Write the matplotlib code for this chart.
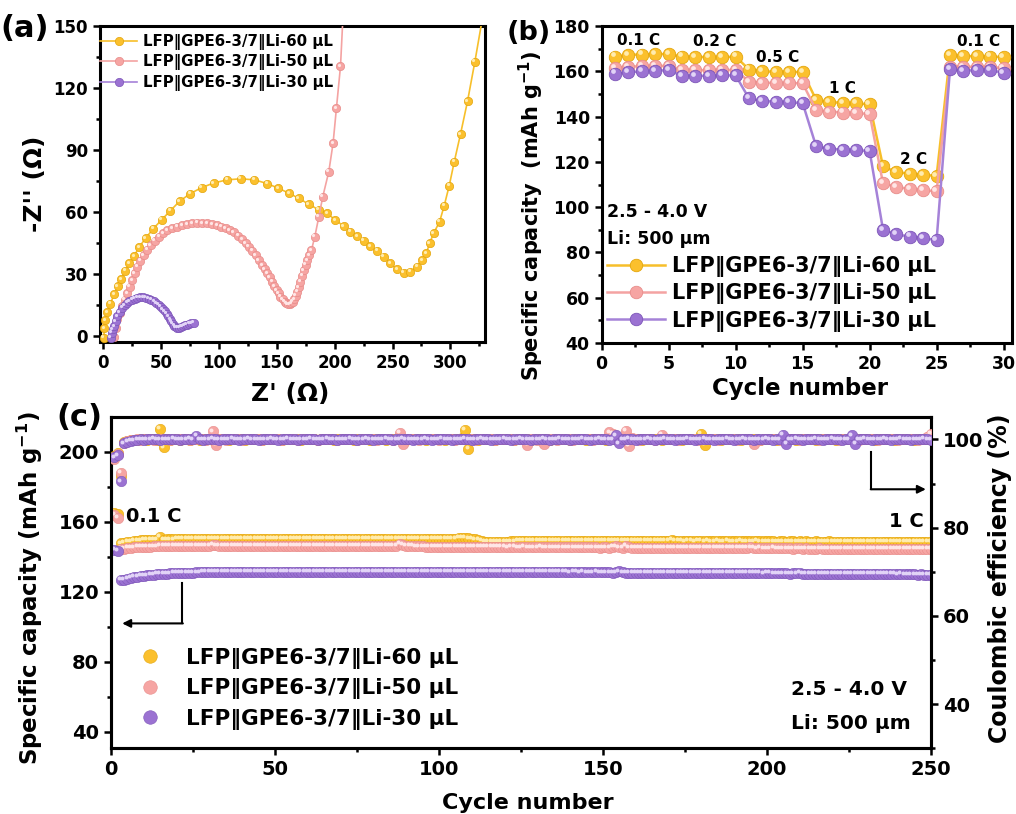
import numpy as np
import matplotlib
matplotlib.use('Agg')
import matplotlib.pyplot as plt
from matplotlib.ticker import MultipleLocator
from matplotlib.transforms import offset_copy

plt.rcParams['font.family'] = ['DejaVu Sans']
plt.rcParams['font.weight'] = 'bold'
plt.rcParams['axes.labelweight'] = 'bold'
plt.rcParams['mathtext.default'] = 'bf'

labels = ['LFP‖GPE6-3/7‖Li-60 μL', 'LFP‖GPE6-3/7‖Li-50 μL', 'LFP‖GPE6-3/7‖Li-30 μL']

# ---- (a) EIS: Z' and -Z'' (ohm)
z60_re = [0.3, 0.8, 1.5, 3.5, 6.0, 9.2, 12.5, 15.5, 19.0, 22.5, 26.4, 31.0, 36.5, 43.0, 50.3,
          57.8, 65.8, 75.0, 84.8, 95.5, 107.0, 118.6, 130.6, 141.6, 151.0, 160.6, 169.0, 177.6,
          186.0, 193.4, 200.6, 207.8, 213.6, 219.3, 225.0, 230.8, 236.6, 242.3, 248.1, 253.9,
          259.6, 265.4, 271.1, 275.5, 279.2, 282.0, 285.5, 290.7, 294.7, 299.0, 303.4, 308.8,
          314.9, 321.2, 327.5]
z60_im = [-1.0, 3.5, 7.6, 11.5, 15.5, 20.0, 24.0, 27.5, 31.5, 35.0, 38.5, 43.0, 47.2, 51.8, 56.1,
          60.5, 65.1, 68.8, 71.7, 74.0, 75.5, 76.0, 75.5, 73.7, 71.5, 69.0, 66.5, 63.7,
          61.0, 59.3, 56.0, 53.1, 50.3, 48.3, 46.0, 43.4, 41.2, 38.3, 35.0, 32.1,
          30.5, 31.0, 33.4, 36.7, 39.9, 44.7, 49.6, 55.2, 63.0, 72.6, 84.3, 97.7,
          113.7, 132.7, 153.0]
z50_re = [9.2, 10.5, 12.0, 14.0, 16.4, 18.5, 20.7, 22.8, 25.0, 27.2, 29.3, 32.0, 35.0, 37.8, 40.8,
          44.3, 48.0, 51.5, 55.2, 59.5, 63.8, 68.2, 72.5, 76.8, 81.1, 85.4, 89.7, 94.0, 98.4,
          102.0, 105.6, 109.2, 112.8, 116.4, 120.0, 122.9, 125.7, 128.6, 131.5, 134.4, 137.3,
          139.5, 141.6, 143.8, 145.9, 147.8, 149.7, 151.4, 153.1, 154.9, 156.6, 158.1, 159.5,
          161.0, 162.4, 163.8, 165.2, 166.4, 167.6, 169.0, 170.4, 171.9, 173.3, 174.8, 176.2,
          178.0, 179.9, 182.8, 186.3, 189.7, 194.9, 198.6, 201.5, 205.0, 207.0]
z50_im = [-0.7, 3.5, 7.9, 11.0, 14.3, 17.5, 20.5, 23.8, 27.0, 30.2, 33.4, 36.3, 39.0, 41.6, 43.9,
          46.0, 47.9, 49.6, 51.2, 52.1, 52.8, 53.5, 54.1, 54.5, 54.7, 54.6, 54.4, 54.0, 53.6,
          52.8, 52.0, 51.0, 50.0, 48.4, 46.6, 44.9, 43.1, 41.1, 39.0, 36.6, 34.2,
          32.2, 30.2, 28.2, 26.2, 24.1, 22.1, 20.5, 18.9, 17.6, 16.5, 15.8, 15.3,
          15.3, 15.7, 16.5, 17.6, 19.3, 21.3, 23.6, 26.2, 29.0, 31.8, 34.3, 36.7,
          39.0, 41.5, 48.0, 57.7, 67.4, 79.5, 93.3, 110.3, 130.5, 153.0]
z30_re = [6.3, 7.0, 8.0, 9.2, 10.5, 12.0, 14.0, 16.4, 18.5, 20.5, 22.5, 24.8, 27.0, 29.3, 31.8,
          34.2, 36.5, 39.0, 41.3, 43.7, 45.8, 47.7, 49.5, 51.3, 53.0, 54.6, 56.1, 57.5, 58.7,
          59.8, 61.0, 62.5, 64.0, 65.5, 67.0, 68.6, 70.2, 72.0, 74.0, 76.0, 78.0]
z30_im = [-1.0, 1.5, 3.2, 4.6, 7.0, 9.4, 11.5, 13.5, 14.8, 15.9, 16.7, 17.4, 17.9, 18.3, 18.5,
          18.5, 18.3, 17.9, 17.4, 16.7, 15.8, 15.0, 14.1, 12.9, 11.8, 10.6, 9.3, 8.0, 7.0,
          5.9, 4.9, 4.2, 3.9, 3.9, 4.3, 4.7, 5.0, 5.4, 5.8, 6.1, 6.3]

# ---- (b) rate capability (mAh/g), cycles 1-30
rate_60 = [166.5, 167.3, 167.4, 167.6, 167.6, 166.5, 166.3, 166.3, 166.2, 166.5,
           160.8, 160.0, 159.8, 159.7, 159.7, 147.5, 146.5, 146.0, 145.8, 145.5,
           118.0, 115.5, 114.8, 114.3, 113.8, 167.0, 166.8, 166.6, 166.5, 166.3]
rate_50 = [161.5, 162.0, 162.3, 162.5, 162.3, 160.6, 160.5, 160.5, 160.6, 160.6,
           155.4, 155.0, 154.8, 154.8, 154.7, 143.0, 142.2, 141.8, 141.5, 141.2,
           110.5, 109.0, 108.0, 107.5, 107.0, 162.0, 162.0, 162.0, 161.8, 161.5]
rate_30 = [159.0, 159.6, 160.0, 160.3, 160.5, 158.0, 158.0, 158.0, 158.2, 158.2,
           148.0, 147.0, 146.5, 146.3, 146.0, 127.0, 125.8, 125.4, 125.2, 124.8,
           90.0, 88.0, 87.0, 86.3, 85.5, 161.0, 160.3, 160.5, 160.6, 159.3]

# ---- (c) long cycling, cycles 1-250: capacity (mAh/g) and CE (%)
cap_60 = [165.3, 164.6, 147.6, 148.0, 148.4, 148.7, 149.0, 149.2, 149.3, 149.5, 149.6, 149.6, 149.7, 149.8, 151.2, 149.8, 149.9, 149.9, 149.9, 150.0, 150.0, 150.0, 150.1, 150.0, 150.1,
          150.1, 150.0, 150.1, 150.2, 150.1, 150.1, 150.2, 150.2, 150.1, 150.2, 150.2, 150.3, 150.2, 150.2, 150.3, 150.2, 150.2, 150.3, 150.3, 150.2, 150.3, 150.3, 150.2, 150.3, 150.3,
          150.3, 150.2, 150.3, 150.3, 150.3, 150.2, 150.3, 150.3, 150.2, 150.3, 150.2, 150.3, 150.3, 150.2, 150.2, 150.3, 150.2, 150.2, 150.3, 150.2, 150.2, 150.2, 150.3, 150.2, 150.2,
          150.2, 150.2, 150.1, 150.2, 150.2, 150.1, 150.2, 150.1, 150.1, 150.2, 150.1, 150.1, 150.2, 150.1, 150.1, 150.0, 150.1, 150.1, 150.0, 150.1, 150.0, 150.0, 150.1, 150.0, 150.0,
          150.0, 150.0, 150.1, 150.2, 150.4, 150.6, 150.8, 150.7, 150.5, 150.2, 149.9, 149.5, 149.1, 148.7, 148.4, 148.3, 148.3, 148.4, 148.5, 148.6, 148.7, 148.8, 148.8, 148.9, 148.9,
          148.9, 149.0, 149.0, 148.9, 149.0, 149.0, 149.0, 149.1, 149.0, 149.0, 149.1, 149.0, 149.0, 149.1, 149.0, 149.0, 149.0, 149.1, 149.0, 149.0, 149.0, 149.0, 149.1, 149.0, 149.0,
          149.0, 149.0, 149.0, 148.9, 149.0, 149.0, 148.9, 149.0, 149.0, 148.9, 149.0, 148.9, 149.0, 148.9, 148.9, 149.0, 148.9, 148.9, 149.0, 148.9, 149.8, 148.9, 148.9, 148.9, 148.8,
          148.9, 148.9, 148.8, 148.9, 148.9, 148.8, 148.9, 148.8, 148.8, 148.9, 148.8, 148.8, 148.9, 148.8, 148.8, 148.8, 148.9, 148.8, 148.8, 148.8, 148.8, 148.9, 148.8, 148.8, 148.8,
          148.8, 148.8, 148.7, 148.8, 148.8, 148.7, 148.8, 148.8, 148.7, 148.8, 148.7, 148.8, 148.7, 148.7, 148.8, 148.7, 148.7, 148.7, 148.8, 148.7, 148.7, 148.7, 148.7, 148.6, 148.7,
          148.7, 148.6, 148.7, 148.7, 148.6, 148.7, 148.6, 148.6, 148.7, 148.6, 148.6, 148.6, 148.7, 148.6, 148.6, 148.6, 148.5, 148.6, 148.6, 148.5, 148.6, 148.6, 148.5, 148.5, 148.5]
cap_50 = [164.0, 162.4, 144.3, 144.7, 145.0, 145.2, 145.4, 145.5, 145.6, 145.7, 145.8, 145.8, 145.9, 145.9, 146.0, 146.0, 146.0, 146.1, 146.1, 146.1, 146.1, 146.2, 146.2, 146.1, 146.2,
          146.2, 146.2, 146.1, 146.2, 146.3, 147.0, 146.5, 146.2, 146.2, 146.3, 146.2, 146.2, 146.3, 146.2, 146.2, 146.3, 146.2, 146.2, 146.3, 146.2, 146.2, 146.2, 146.3, 146.2, 146.2,
          146.2, 146.3, 146.2, 146.2, 146.2, 146.3, 146.2, 146.2, 146.2, 146.3, 146.2, 146.2, 146.2, 146.2, 146.3, 146.2, 146.2, 146.2, 146.2, 146.1, 146.2, 146.2, 146.2, 146.1, 146.2,
          146.2, 146.1, 146.2, 146.1, 146.1, 146.2, 146.1, 146.1, 146.2, 146.1, 146.1, 146.1, 147.2, 146.6, 146.2, 146.0, 146.0, 145.9, 145.9, 145.9, 145.8, 145.8, 145.8, 145.8, 145.7,
          145.7, 145.7, 145.8, 145.7, 145.7, 145.7, 145.6, 145.7, 145.7, 145.6, 145.6, 145.6, 145.6, 145.5, 145.5, 145.6, 145.5, 145.5, 145.5, 145.5, 145.4, 145.5, 145.5, 145.4, 145.4,
          145.5, 145.4, 145.4, 145.4, 145.4, 145.5, 145.4, 145.4, 145.4, 145.4, 145.3, 145.4, 145.4, 145.3, 145.4, 145.3, 145.3, 145.4, 145.3, 145.3, 145.3, 145.3, 145.3, 145.2, 145.3,
          145.3, 145.2, 145.6, 145.9, 145.4, 145.2, 146.0, 145.4, 145.2, 145.2, 145.2, 145.2, 145.1, 145.2, 145.2, 145.1, 145.1, 145.2, 145.1, 145.1, 145.1, 145.1, 145.0, 145.1, 145.1,
          145.0, 145.1, 145.0, 145.0, 145.0, 145.0, 145.0, 144.9, 145.0, 145.0, 144.9, 145.0, 144.9, 144.9, 145.0, 144.9, 144.9, 144.9, 144.9, 145.4, 144.9, 144.8, 144.9, 144.8, 144.8,
          144.8, 144.9, 144.8, 144.8, 144.8, 144.8, 144.8, 144.7, 144.8, 144.8, 144.7, 144.8, 144.7, 144.7, 144.7, 144.8, 144.7, 144.7, 144.7, 144.6, 144.7, 144.7, 144.6, 144.7, 144.6,
          144.6, 144.6, 144.7, 144.6, 144.6, 144.6, 144.5, 144.6, 144.6, 144.5, 144.6, 144.5, 144.5, 144.5, 144.5, 144.5, 144.4, 144.5, 144.5, 144.4, 144.4, 144.5, 144.4, 144.4, 144.3]
cap_30 = [143.8, 143.3, 126.6, 127.0, 127.5, 127.9, 128.3, 128.6, 128.9, 129.2, 129.4, 129.6, 129.8, 130.0, 130.2, 130.3, 130.4, 130.5, 130.6, 130.7, 130.8, 130.8, 130.9, 131.0, 131.0,
          131.1, 131.1, 131.2, 131.2, 131.3, 131.3, 131.3, 131.3, 131.4, 131.4, 131.4, 131.4, 131.4, 131.5, 131.4, 131.5, 131.5, 131.4, 131.5, 131.5, 131.5, 131.4, 131.5, 131.5, 131.5,
          131.5, 131.4, 131.5, 131.5, 131.5, 131.4, 131.5, 131.5, 131.4, 131.5, 131.5, 131.4, 131.5, 131.5, 131.4, 131.5, 131.4, 131.5, 131.5, 131.4, 131.5, 131.4, 131.4, 131.5, 131.4,
          131.4, 131.5, 131.4, 131.4, 131.5, 131.4, 131.4, 131.4, 131.5, 131.4, 131.4, 131.4, 131.4, 131.5, 131.4, 131.4, 131.4, 131.4, 131.4, 131.4, 131.4, 131.3, 131.4, 131.4, 131.4,
          131.4, 131.3, 131.4, 131.4, 131.3, 131.4, 131.4, 131.3, 131.4, 131.3, 131.3, 131.4, 131.3, 131.3, 131.3, 131.4, 131.3, 131.3, 131.3, 131.3, 131.3, 131.3, 131.2, 131.3, 131.3,
          131.3, 131.2, 131.3, 131.3, 131.2, 131.3, 131.2, 131.2, 131.3, 131.2, 131.2, 131.2, 131.2, 131.2, 131.1, 131.2, 131.2, 131.1, 131.2, 131.1, 131.1, 131.1, 131.2, 131.1, 131.1,
          131.1, 131.1, 131.0, 131.1, 131.6, 131.1, 131.0, 131.0, 131.0, 131.0, 131.0, 131.0, 130.9, 131.0, 131.0, 130.9, 130.9, 131.0, 130.9, 130.9, 130.9, 130.9, 130.8, 130.9, 130.9,
          130.8, 130.8, 130.9, 130.8, 130.8, 130.8, 130.7, 130.8, 130.8, 130.7, 130.7, 130.8, 130.7, 130.7, 130.7, 130.6, 130.7, 130.7, 130.6, 130.6, 130.6, 130.6, 130.6, 130.5, 130.6,
          130.6, 130.5, 130.5, 130.5, 130.5, 130.5, 130.4, 130.5, 130.5, 131.0, 130.4, 130.4, 130.4, 130.4, 130.3, 130.4, 130.3, 130.3, 130.3, 130.3, 130.3, 130.2, 130.3, 130.2, 130.2,
          130.2, 130.2, 130.1, 130.2, 130.1, 130.1, 130.1, 130.1, 130.0, 130.1, 130.0, 130.0, 130.0, 130.0, 129.9, 130.0, 129.9, 129.9, 129.9, 129.9, 129.8, 129.9, 129.8, 129.8, 129.8]
ce_60 = [96.2, 96.9, 91.6, 99.3, 99.6, 99.8, 99.9, 99.9, 100.0, 100.0, 99.9, 100.0, 100.0, 99.9, 102.3, 98.2, 100.0, 99.9, 100.0, 100.0, 99.9, 100.0, 100.0, 99.9, 100.0,
         100.0, 99.9, 100.0, 100.1, 100.0, 99.9, 100.0, 100.0, 100.1, 100.0, 99.9, 100.0, 100.0, 100.1, 100.0, 99.9, 100.0, 100.0, 100.0, 100.1, 99.9, 100.0, 100.0, 100.0, 100.1,
         100.0, 99.9, 100.0, 100.0, 100.1, 100.0, 100.0, 99.9, 100.0, 100.1, 100.0, 100.0, 99.9, 100.0, 100.0, 100.1, 100.0, 99.9, 100.0, 100.0, 100.0, 100.1, 100.0, 99.9, 100.0,
         100.0, 100.1, 100.0, 99.9, 100.0, 100.0, 100.0, 100.1, 99.9, 100.0, 100.0, 100.0, 100.1, 100.0, 99.9, 100.0, 100.0, 100.1, 100.0, 100.0, 99.9, 100.0, 100.0, 100.1, 100.0,
         100.0, 99.9, 100.0, 100.0, 100.1, 100.0, 100.3, 102.2, 97.8, 100.2, 100.0, 99.9, 100.0, 100.0, 100.1, 100.0, 99.9, 100.0, 100.0, 100.0, 100.1, 100.0, 99.9, 100.0, 100.0,
         100.1, 100.0, 99.9, 100.0, 100.0, 100.0, 100.1, 100.0, 99.9, 100.0, 100.0, 100.1, 100.0, 100.0, 99.9, 100.0, 100.0, 100.1, 100.0, 99.9, 100.0, 100.0, 100.0, 100.1, 100.0,
         99.9, 100.0, 100.0, 100.1, 100.0, 100.0, 99.9, 100.0, 100.0, 100.1, 100.0, 99.9, 100.0, 100.0, 100.0, 100.1, 100.0, 99.9, 100.0, 100.0, 100.1, 100.0, 100.0, 99.9, 100.0,
         100.0, 100.1, 100.0, 100.2, 101.3, 98.8, 100.0, 100.0, 100.1, 100.0, 99.9, 100.0, 100.0, 100.0, 100.1, 100.0, 99.9, 100.0, 100.0, 100.1, 100.0, 100.0, 99.9, 100.0, 100.0,
         100.1, 100.0, 99.9, 100.0, 100.0, 100.0, 100.1, 100.0, 99.9, 100.0, 100.0, 100.1, 100.0, 100.0, 99.9, 100.0, 100.0, 100.0, 100.1, 100.0, 99.9, 100.0, 100.0, 100.1, 100.0,
         100.0, 99.9, 100.0, 100.0, 100.0, 100.1, 100.0, 99.9, 100.0, 100.0, 100.1, 100.0, 100.0, 99.9, 100.0, 100.0, 100.0, 100.1, 100.0, 99.9, 100.0, 100.0, 100.1, 100.0, 100.0]
ce_50 = [95.5, 96.6, 92.4, 99.2, 99.6, 99.8, 99.9, 100.0, 99.9, 100.0, 100.1, 100.0, 99.9, 100.0, 100.0, 100.1, 100.0, 99.9, 100.0, 100.0, 100.0, 100.1, 100.0, 99.9, 100.0,
         100.0, 100.1, 100.0, 99.9, 100.2, 101.8, 98.8, 100.1, 100.0, 99.9, 100.0, 100.0, 100.1, 100.0, 99.9, 100.0, 100.0, 100.0, 100.1, 100.0, 99.9, 100.0, 100.0, 100.1, 100.0,
         100.0, 99.9, 100.0, 100.0, 100.1, 100.0, 99.9, 100.0, 100.0, 100.0, 100.1, 100.0, 99.9, 100.0, 100.0, 100.1, 100.0, 100.0, 99.9, 100.0, 100.0, 100.0, 100.1, 100.0, 99.9,
         100.0, 100.0, 100.1, 100.0, 100.0, 99.9, 100.0, 100.0, 100.1, 100.0, 99.9, 100.2, 101.4, 98.9, 100.0, 100.0, 100.1, 100.0, 99.9, 100.0, 100.0, 100.0, 100.1, 100.0, 99.9,
         100.0, 100.0, 100.1, 100.0, 99.9, 100.0, 100.0, 100.0, 100.1, 100.0, 99.9, 100.0, 100.0, 100.1, 100.0, 100.0, 99.9, 100.0, 100.0, 100.0, 100.1, 100.0, 99.9, 100.0, 100.0,
         100.1, 98.8, 100.0, 100.0, 99.9, 100.0, 98.9, 100.1, 100.0, 100.0, 99.9, 100.0, 100.0, 100.1, 100.0, 99.9, 100.0, 100.0, 100.0, 100.1, 100.0, 99.9, 100.0, 100.0, 100.1,
         100.2, 101.6, 101.2, 100.0, 99.9, 100.0, 101.9, 98.5, 100.4, 100.0, 99.9, 100.0, 100.0, 100.1, 100.0, 99.9, 100.0, 101.0, 100.0, 100.0, 100.1, 100.0, 99.9, 100.0, 100.0,
         100.0, 100.1, 100.0, 99.9, 100.0, 100.0, 100.1, 100.0, 100.0, 99.9, 100.0, 100.0, 100.0, 100.1, 100.0, 99.9, 100.0, 100.0, 100.0, 100.1, 98.9, 100.0, 99.9, 100.0, 100.0,
         100.1, 100.0, 100.0, 99.9, 100.0, 100.0, 100.0, 100.1, 100.0, 99.9, 100.0, 100.0, 100.1, 100.0, 100.0, 99.9, 100.0, 100.0, 100.0, 100.1, 100.0, 99.9, 100.0, 100.0, 100.1,
         100.0, 100.0, 99.9, 100.0, 100.0, 100.0, 100.1, 100.0, 99.9, 100.0, 100.0, 100.1, 100.0, 100.0, 99.9, 100.0, 100.0, 100.0, 100.1, 100.0, 99.9, 100.0, 100.2, 100.6, 101.2]
ce_30 = [95.9, 96.4, 90.5, 99.1, 99.5, 99.7, 99.8, 99.9, 100.0, 99.9, 100.0, 100.0, 100.1, 100.0, 99.9, 100.0, 100.0, 100.0, 100.1, 100.0, 99.9, 100.0, 100.0, 100.1, 100.0,
         100.8, 100.0, 99.9, 100.0, 100.0, 100.1, 100.0, 99.9, 100.0, 100.0, 100.0, 100.1, 100.0, 99.9, 100.0, 100.0, 100.1, 100.0, 100.0, 99.9, 100.0, 100.0, 100.0, 100.1, 100.0,
         99.9, 100.0, 100.0, 100.1, 100.0, 100.0, 99.9, 100.0, 100.0, 100.0, 100.1, 100.0, 99.9, 100.0, 100.0, 100.1, 100.0, 100.0, 99.9, 100.0, 100.0, 100.0, 100.1, 100.0, 99.9,
         100.0, 100.0, 100.1, 100.0, 99.9, 100.0, 100.0, 100.0, 100.1, 100.0, 99.9, 100.0, 100.0, 100.1, 100.0, 100.0, 99.9, 100.0, 100.0, 100.0, 100.1, 100.0, 99.9, 100.0, 100.0,
         100.1, 100.0, 100.0, 99.9, 100.0, 100.0, 100.0, 100.1, 100.0, 99.9, 100.0, 100.0, 100.1, 100.0, 100.0, 99.9, 100.0, 100.0, 100.0, 100.1, 100.0, 99.9, 100.0, 100.0, 100.1,
         100.0, 100.0, 99.9, 100.0, 100.0, 100.0, 100.1, 100.0, 99.9, 100.0, 100.0, 100.1, 100.0, 100.0, 99.9, 100.0, 100.0, 100.0, 100.1, 100.0, 99.9, 100.0, 100.0, 100.1, 100.0,
         100.0, 99.9, 100.0, 100.9, 99.1, 100.0, 100.0, 100.1, 100.0, 99.9, 100.0, 100.0, 100.0, 100.1, 100.0, 99.9, 100.0, 100.0, 100.1, 100.0, 100.0, 99.9, 100.0, 100.0, 100.0,
         100.1, 100.0, 99.9, 100.0, 100.0, 100.1, 100.0, 100.0, 99.9, 100.0, 100.0, 100.0, 100.1, 100.0, 99.9, 100.0, 100.0, 100.1, 100.0, 100.0, 99.9, 100.0, 100.0, 100.0, 100.1,
         100.0, 99.9, 100.0, 100.0, 101.1, 98.9, 100.0, 100.0, 100.1, 100.0, 99.9, 100.0, 100.0, 100.0, 100.1, 100.0, 99.9, 100.0, 100.0, 100.1, 100.0, 100.0, 99.9, 100.0, 100.0,
         100.9, 99.0, 100.0, 100.0, 100.1, 100.0, 99.9, 100.0, 100.0, 100.0, 100.1, 100.0, 99.9, 100.0, 100.0, 100.1, 100.0, 100.0, 99.9, 100.0, 100.0, 100.0, 100.1, 100.0, 99.9]

face = ['#FBC02D', '#F6A5A3', '#9B72D2']
edge = ['#E3A60C', '#E88C8A', '#7D56B8']
shine_c = ['#FFECB0', '#FFE6E6', '#E2D4F7']
line_c = ['#F7BF2A', '#F4A3A2', '#A582D8']


def shine(ax, x, y, ms, col, z):
    tr = offset_copy(ax.transData, fig=fig, x=-ms * 0.17, y=ms * 0.17, units='points')
    ax.plot(x, y, 'o', ls='none', ms=ms * 0.38, color=col, mec='none', transform=tr, zorder=z)


def style(ax, fs):
    ax.tick_params(which='both', direction='out', labelsize=fs, width=1.8)
    ax.tick_params(which='major', length=5)
    ax.tick_params(which='minor', length=3)
    for s in ax.spines.values():
        s.set_linewidth(2.2)


fig = plt.figure(figsize=(10.16, 8.14), dpi=100)

# ---------------- (a)
axa = fig.add_axes([0.0984, 0.580, 0.379, 0.388])
zs = [(z60_re, z60_im), (z50_re, z50_im), (z30_re, z30_im)]
for i, (xr, yi) in enumerate(zs):
    axa.plot(xr, yi, '-o', color=line_c[i], lw=1.2, ms=6, mfc=face[i], mec=edge[i], mew=0.5,
             label=labels[i], zorder=3 + i)
    shine(axa, xr, yi, 6, shine_c[i], 3.5 + i)
axa.set_xlim(-3, 330)
axa.set_ylim(-3, 150)
axa.xaxis.set_major_locator(MultipleLocator(50))
axa.xaxis.set_minor_locator(MultipleLocator(25))
axa.yaxis.set_major_locator(MultipleLocator(30))
axa.yaxis.set_minor_locator(MultipleLocator(15))
style(axa, 12)
axa.set_xlabel("Z' (Ω)", fontsize=18)
axa.set_ylabel("-Z'' (Ω)", fontsize=18)
axa.xaxis.set_label_coords(0.494, -0.127)
axa.yaxis.set_label_coords(-0.138, 0.5)
axa.legend(loc='upper left', bbox_to_anchor=(0.0, 0.975), frameon=False, fontsize=10.8,
           handlelength=2.5, handletextpad=0.35, labelspacing=0.3, borderpad=0, borderaxespad=0)

# ---------------- (b)
axb = fig.add_axes([0.5922, 0.5786, 0.4035, 0.3894])
cyc_b = np.arange(1, len(rate_60) + 1)
for i, r in enumerate([rate_60, rate_50, rate_30]):
    axb.plot(cyc_b, r, '-o', color=line_c[i], lw=1.8, ms=9, mfc=face[i], mec=edge[i], mew=0.6,
             label=labels[i], zorder=3 + i)
    shine(axb, cyc_b, r, 9, shine_c[i], 3.5 + i)
axb.set_xlim(0, 30.6)
axb.set_ylim(40, 180)
axb.xaxis.set_major_locator(MultipleLocator(5))
axb.xaxis.set_minor_locator(MultipleLocator(2.5))
axb.yaxis.set_major_locator(MultipleLocator(20))
axb.yaxis.set_minor_locator(MultipleLocator(10))
style(axb, 12.5)
axb.set_xlabel('Cycle number', fontsize=16.5)
axb.set_ylabel('Specific capacity  (mAh g$^{-1}$)', fontsize=15)
axb.xaxis.set_label_coords(0.484, -0.106)
axb.yaxis.set_label_coords(-0.136, 0.40)
for t, x, y in [('0.1 C', 2.75, 173.8), ('0.2 C', 8.4, 173), ('0.5 C', 13.1, 166.2),
                ('1 C', 18, 152.5), ('2 C', 23.3, 121.1), ('0.1 C', 28.1, 173)]:
    axb.text(x, y, t, fontsize=11, ha='center', va='center')
axb.text(0.4, 98, '2.5 - 4.0 V', fontsize=12.5, ha='left', va='center')
axb.text(0.4, 85.8, 'Li: 500 μm', fontsize=12.5, ha='left', va='center')
axb.legend(loc='upper left', bbox_to_anchor=(0.012, 0.274), frameon=False, fontsize=15,
           handlelength=2.8, handletextpad=0.32, labelspacing=0.3, borderpad=0, borderaxespad=0)

# ---------------- (c)
axc = fig.add_axes([0.1093, 0.0807, 0.8068, 0.4066])
axr = axc.twinx()
for i, (cap, ce) in enumerate([(cap_60, ce_60), (cap_50, ce_50), (cap_30, ce_30)]):
    cyc = np.arange(1, len(cap) + 1)
    axc.plot(cyc, cap, 'o', ls='none', ms=7.5, mfc=face[i], mec=edge[i], mew=0.4,
             label=labels[i], zorder=3 + i)
    shine(axc, cyc, cap, 7.5, shine_c[i], 3.5 + i)
    cyc2 = np.arange(1, len(ce) + 1)
    axr.plot(cyc2, ce, 'o', ls='none', ms=7.5, mfc=face[i], mec=edge[i], mew=0.4, zorder=3 + i)
    shine(axr, cyc2, ce, 7.5, shine_c[i], 3.5 + i)
axc.set_xlim(0, 250)
axc.set_ylim(30.5, 219.7)
axr.set_ylim(30, 105)
axc.xaxis.set_major_locator(MultipleLocator(50))
axc.xaxis.set_minor_locator(MultipleLocator(25))
axc.yaxis.set_major_locator(MultipleLocator(40))
axc.yaxis.set_minor_locator(MultipleLocator(20))
axr.yaxis.set_major_locator(MultipleLocator(20))
axr.yaxis.set_minor_locator(MultipleLocator(10))
style(axc, 14)
style(axr, 14)
axc.set_xlabel('Cycle number', fontsize=16)
axc.set_ylabel('Specific capacity (mAh g$^{-1}$)', fontsize=16.5)
axr.set_ylabel('Coulombic efficiency (%)', fontsize=17)
axc.xaxis.set_label_coords(0.508, -0.135)
axc.yaxis.set_label_coords(-0.0805, 0.485)
axr.yaxis.set_label_coords(1.07, 0.515)

axc.text(12.9, 162.9, '0.1 C', fontsize=14, ha='center', va='center')
axc.text(242.5, 160, '1 C', fontsize=14, ha='center', va='center')
axc.text(207.5, 64.4, '2.5 - 4.0 V', fontsize=14.5, ha='left', va='center')
axc.text(207.5, 44.4, 'Li: 500 μm', fontsize=14.5, ha='left', va='center')

# guide arrows
axc.plot([21.7, 21.7], [125.1, 101.9], color='k', lw=1.5, zorder=6)
axc.annotate('', xy=(3.4, 101.9), xytext=(21.9, 101.9),
             arrowprops=dict(arrowstyle='-|>', color='k', lw=1.5, mutation_scale=12,
                             shrinkA=0, shrinkB=0), zorder=6)
axr.plot([231.9, 231.9], [97.2, 88.7], color='k', lw=1.5, zorder=6)
axr.annotate('', xy=(248.5, 88.7), xytext=(231.7, 88.7),
             arrowprops=dict(arrowstyle='-|>', color='k', lw=1.5, mutation_scale=12,
                             shrinkA=0, shrinkB=0), zorder=6)

axc.legend(loc='upper left', bbox_to_anchor=(0.034, 0.303), frameon=False, fontsize=15.5,
           handlelength=1.0, handletextpad=1.2, labelspacing=0.43, borderpad=0,
           borderaxespad=0, markerscale=1.3)

fig.text(0.0, 0.9656, '(a)', fontsize=22, ha='left', va='center')
fig.text(0.499, 0.9595, '(b)', fontsize=19.5, ha='left', va='center')
fig.text(0.0558, 0.4865, '(c)', fontsize=22, ha='left', va='center')

fig.savefig('out.png', dpi=100)
